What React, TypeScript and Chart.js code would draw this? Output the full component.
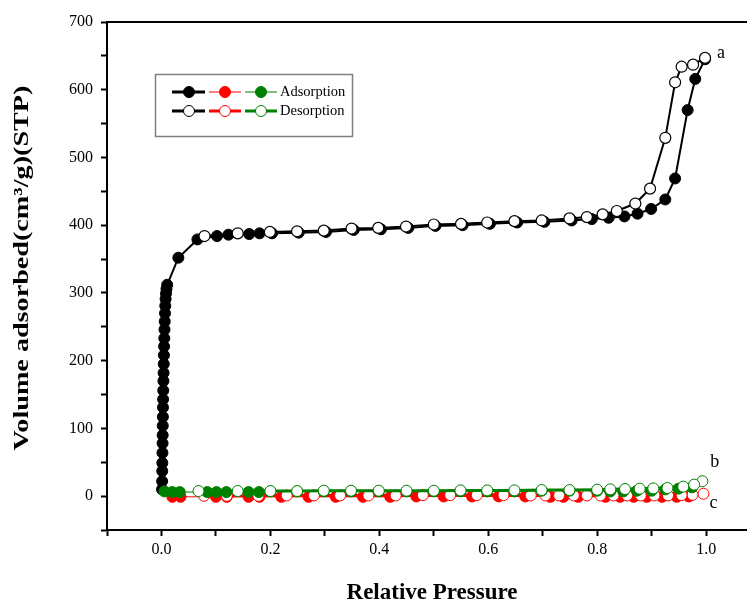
import React, { useEffect, useRef } from 'react';
import { Chart, registerables } from 'chart.js';
Chart.register(...registerables);

// ---- Data ----
const aAdsP = [0.0010, 0.0012, 0.0014, 0.0016, 0.0018, 0.0020, 0.0022, 0.0024, 0.0026, 0.0028, 0.0030, 0.0033, 0.0036, 0.0039, 0.0042, 0.0045, 0.0048, 0.0052, 0.0056, 0.0060, 0.0065, 0.0070, 0.0076, 0.0083, 0.0092, 0.0105,
  0.031, 0.066, 0.102, 0.123, 0.161, 0.180, 0.203, 0.252, 0.302, 0.353, 0.403, 0.453, 0.503, 0.553, 0.603, 0.653, 0.703, 0.753, 0.790, 0.821, 0.850, 0.874, 0.899, 0.925, 0.943, 0.966, 0.980, 0.998];
const aAdsV = [10, 22, 37, 49, 64, 78, 90, 104, 117, 131, 143, 156, 170, 182, 195, 208, 221, 233, 246, 258, 270, 281, 291, 299, 306, 312,
  352, 379, 384, 386, 387, 388, 388, 389, 390, 393, 394, 396, 399, 400, 402, 404, 405, 407, 409, 411, 413, 417, 424, 438, 469, 570, 616, 645];

const aDesP = [0.998, 0.976, 0.955, 0.943, 0.925, 0.897, 0.870, 0.836, 0.810, 0.781, 0.749, 0.698, 0.648, 0.598, 0.550, 0.500, 0.449, 0.398, 0.349, 0.298, 0.249, 0.199, 0.140, 0.079];
const aDesV = [647, 637, 634, 611, 529, 454, 432, 421, 416, 412, 410, 407, 406, 404, 402, 401, 398, 396, 395, 392, 391, 390, 388, 384];

const bAdsP = [0.0055, 0.0196, 0.0336, 0.084, 0.101, 0.119, 0.160, 0.179, 0.200, 0.249, 0.298, 0.348, 0.399, 0.450, 0.500, 0.549, 0.598, 0.648, 0.698, 0.749, 0.800, 0.824, 0.848, 0.873, 0.900, 0.925, 0.949, 0.974];
const bAdsV = [7, 6, 6, 6, 6, 6, 6, 6, 7, 7, 7, 7, 7, 7, 7, 7, 7, 7, 8, 8, 8, 7, 7, 8, 8, 10, 11, 13];

const bDesP = [0.993, 0.978, 0.958, 0.929, 0.903, 0.878, 0.851, 0.824, 0.800, 0.749, 0.698, 0.648, 0.598, 0.549, 0.500, 0.450, 0.399, 0.348, 0.298, 0.249, 0.200, 0.140, 0.068];
const bDesV = [22, 17, 14, 12, 11.5, 11, 10.5, 10, 9.5, 9, 9, 8.5, 8.5, 8.5, 8, 8, 8, 8, 8, 7.5, 7.5, 7.5, 7.5];

const cAdsP = [0.020, 0.035, 0.100, 0.120, 0.160, 0.180, 0.220, 0.270, 0.320, 0.370, 0.420, 0.468, 0.518, 0.570, 0.619, 0.668, 0.714, 0.738, 0.765, 0.815, 0.842, 0.867, 0.891, 0.919, 0.946, 0.968];
const cAdsV = [-1, -1, -1, -1, -1, -1, -1, -1, -1, -1, -1, -0.5, -0.5, -0.5, -0.5, -0.5, -1, -1, -1, -1, -1, -1, -1, -1, -1, -0.5];

const cDesP = [0.995, 0.975, 0.955, 0.930, 0.905, 0.880, 0.855, 0.830, 0.806, 0.781, 0.757, 0.730, 0.705, 0.678, 0.628, 0.579, 0.530, 0.480, 0.430, 0.380, 0.328, 0.280, 0.230, 0.178, 0.120, 0.078];
const cDesV = [3.5, 2, 1.5, 1, 1, 1, 1, 1, 1, 1, 1, 1, 1, 1, 1.5, 1.5, 1.5, 1.5, 1, 1, 1, 1, 1, 0.5, 0.5, 0.5];

const xTickValues = [-0.1, 0, 0.1, 0.2, 0.3, 0.4, 0.5, 0.6, 0.7, 0.8, 0.9, 1.0];
const xTickLabels = ['', '0.0', '', '0.2', '', '0.4', '', '0.6', '', '0.8', '', '1.0'];
const yTickLabels = ['0', '100', '200', '300', '400', '500', '600', '700'];
const legendLabels = ['Adsorption', 'Desorption'];
const curveLabels = ['a', 'b', 'c'];
const xTitle = 'Relative Pressure';
const yTitle = 'Volume adsorbed(cm\u00B3/g)(STP)';

const BLACK = '#000000';
const RED = '#ff0000';
const GREEN = '#008000';
const SERIF = '"Liberation Serif", "Times New Roman", serif';

const pts = (p: number[], v: number[]) => p.map((x, i) => ({ x, y: v[i] }));

export default function App() {
  const ref = useRef<HTMLCanvasElement | null>(null);

  useEffect(() => {
    if (!ref.current) return;

    const overlay = {
      id: 'overlay',
      afterDraw(chart: any) {
        const ctx = chart.ctx;
        const ca = chart.chartArea;
        ctx.save();
        // top frame line
        ctx.strokeStyle = BLACK;
        ctx.lineWidth = 2;
        ctx.beginPath();
        ctx.moveTo(ca.left - 1, ca.top);
        ctx.lineTo(chart.width, ca.top);
        ctx.stroke();

        // axis titles
        ctx.fillStyle = BLACK;
        ctx.font = 'bold 23px ' + SERIF;
        ctx.textAlign = 'center';
        ctx.textBaseline = 'middle';
        ctx.fillText(xTitle, 432, 593);
        ctx.save();
        ctx.translate(22, 268);
        ctx.rotate(-Math.PI / 2);
        ctx.scale(1.28, 1);
        ctx.font = 'bold 22px ' + SERIF;
        ctx.fillText(yTitle, 0, 0);
        ctx.restore();

        // legend box
        ctx.strokeStyle = '#7f7f7f';
        ctx.lineWidth = 1.5;
        ctx.strokeRect(155.5, 74.5, 197, 62);
        const rows = [92, 111];
        const segs = [[172, 205, 189], [209, 241, 225], [245, 277, 261]];
        const cols = [BLACK, RED, GREEN];
        rows.forEach((ry, r) => {
          segs.forEach((s, k) => {
            ctx.strokeStyle = cols[k];
            ctx.lineWidth = (k === 0 || r === 1) ? 3 : 1;
            ctx.beginPath();
            ctx.moveTo(s[0], ry);
            ctx.lineTo(s[1], ry);
            ctx.stroke();
            ctx.beginPath();
            ctx.arc(s[2], ry, 5.5, 0, Math.PI * 2);
            ctx.fillStyle = r === 0 ? cols[k] : '#ffffff';
            ctx.fill();
            ctx.lineWidth = 1;
            ctx.strokeStyle = cols[k];
            ctx.stroke();
          });
          ctx.fillStyle = BLACK;
          ctx.font = '14.5px ' + SERIF;
          ctx.textBaseline = 'middle';
          ctx.textAlign = 'left';
          ctx.fillText(legendLabels[r], 280, ry);
        });

        // curve labels a, b, c
        const xs = chart.scales.x;
        const ys = chart.scales.y;
        ctx.font = '18px ' + SERIF;
        ctx.fillStyle = BLACK;
        ctx.textAlign = 'left';
        ctx.textBaseline = 'middle';
        ctx.fillText(curveLabels[0], xs.getPixelForValue(aDesP[0]) + 12, ys.getPixelForValue(aDesV[0]) - 5);
        ctx.fillText(curveLabels[1], xs.getPixelForValue(bDesP[0]) + 8, ys.getPixelForValue(bDesV[0]) - 19);
        ctx.fillText(curveLabels[2], xs.getPixelForValue(cDesP[0]) + 6, ys.getPixelForValue(cDesV[0]) + 10);
        ctx.restore();
      },
    };

    const common = { tension: 0, pointStyle: 'circle', pointRadius: 5.5, pointHoverRadius: 5.5 };

    const chart = new Chart(ref.current, {
      type: 'line',
      data: {
        datasets: [
          { ...common, label: 'b des', data: pts(bDesP, bDesV), borderColor: GREEN, borderWidth: 3, pointBackgroundColor: '#ffffff', pointBorderColor: GREEN, pointBorderWidth: 1 },
          { ...common, label: 'b ads', data: pts(bAdsP, bAdsV), borderColor: GREEN, borderWidth: 1, pointBackgroundColor: GREEN, pointBorderColor: GREEN, pointBorderWidth: 1 },
          { ...common, label: 'c des', data: pts(cDesP, cDesV), borderColor: RED, borderWidth: 3, pointBackgroundColor: '#ffffff', pointBorderColor: RED, pointBorderWidth: 1 },
          { ...common, label: 'c ads', data: pts(cAdsP, cAdsV), borderColor: RED, borderWidth: 1, pointBackgroundColor: RED, pointBorderColor: RED, pointBorderWidth: 1 },
          { ...common, label: 'a des', data: pts(aDesP, aDesV), borderColor: BLACK, borderWidth: 2, pointBackgroundColor: '#ffffff', pointBorderColor: BLACK, pointBorderWidth: 1.2 },
          { ...common, label: 'a ads', data: pts(aAdsP, aAdsV), borderColor: BLACK, borderWidth: 2, pointBackgroundColor: BLACK, pointBorderColor: BLACK, pointBorderWidth: 1 },
        ] as any,
      },
      options: {
        animation: false,
        responsive: false,
        devicePixelRatio: 1,
        layout: { autoPadding: false, padding: { left: 0, top: 22, right: 0, bottom: 0 } },
        plugins: { legend: { display: false }, tooltip: { enabled: false } },
        scales: {
          x: {
            type: 'linear',
            min: -0.1,
            max: 1.075,
            afterBuildTicks: (s: any) => { s.ticks = xTickValues.map((value) => ({ value })); },
            afterFit: (s: any) => { s.height = 73; s.paddingRight = 0; s.paddingLeft = 0; },
            ticks: {
              autoSkip: false,
              maxRotation: 0,
              color: BLACK,
              padding: 4,
              font: { family: SERIF, size: 16 },
              callback: (_v: any, i: number) => xTickLabels[i] ?? '',
            },
            grid: { drawOnChartArea: false, drawTicks: true, tickLength: 6, tickColor: BLACK, tickWidth: 2 },
            border: { display: true, color: BLACK, width: 2 },
            title: { display: false },
          },
          y: {
            type: 'linear',
            min: -50,
            max: 700,
            afterFit: (s: any) => { s.width = 107; },
            ticks: {
              stepSize: 50,
              autoSkip: false,
              color: BLACK,
              padding: 8,
              font: { family: SERIF, size: 16 },
              callback: (v: any) => {
                const n = Math.round(Number(v));
                return n >= 0 && n % 100 === 0 ? yTickLabels[n / 100] ?? '' : '';
              },
            },
            grid: { drawOnChartArea: false, drawTicks: true, tickLength: 6, tickColor: BLACK, tickWidth: 2 },
            border: { display: true, color: BLACK, width: 2 },
            title: { display: false },
          },
        },
      } as any,
      plugins: [overlay],
    });
    return () => chart.destroy();
  }, []);

  return (
    <div style={{ position: 'fixed', left: 0, top: 0, width: 747, height: 603, background: '#ffffff' }}>
      <canvas ref={ref} width={747} height={603} style={{ width: 747, height: 603, display: 'block' }} />
    </div>
  );
}
